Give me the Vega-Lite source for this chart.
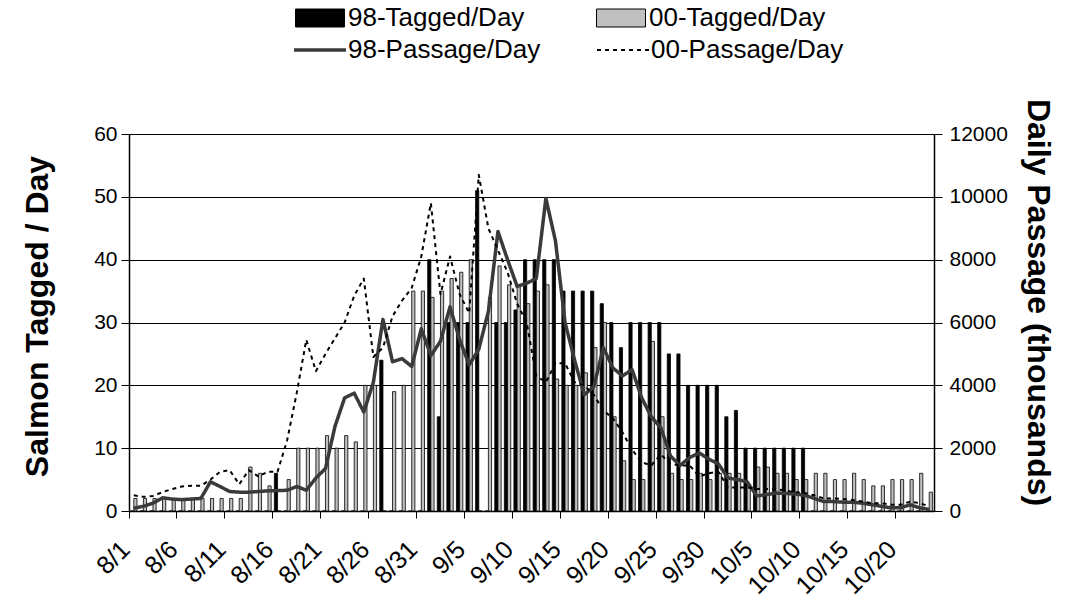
{
  "$schema": "https://vega.github.io/schema/vega-lite/v6.json",
  "width": 805,
  "height": 377,
  "autosize": {"type": "none"},
  "padding": {"left": 129, "top": 134, "right": 150, "bottom": 90},
  "background": "white",
  "config": {
    "font": "Liberation Sans",
    "view": {"stroke": null},
    "axis": {"labelFont": "Liberation Sans", "titleFont": "Liberation Sans", "labelColor": "black", "titleColor": "black", "domainColor": "black", "tickColor": "black"},
    "legend": {"labelFont": "Liberation Sans", "labelColor": "black"}
  },
  "data": {
    "values": [
      {"d":"8/1","98-Tagged/Day":0,"00-Tagged/Day":2,"98-Passage/Day":90,"00-Passage/Day":500},
      {"d":"8/2","98-Tagged/Day":0,"00-Tagged/Day":2,"98-Passage/Day":150,"00-Passage/Day":450},
      {"d":"8/3","98-Tagged/Day":0,"00-Tagged/Day":2,"98-Passage/Day":250,"00-Passage/Day":480},
      {"d":"8/4","98-Tagged/Day":0,"00-Tagged/Day":2,"98-Passage/Day":420,"00-Passage/Day":600},
      {"d":"8/5","98-Tagged/Day":0,"00-Tagged/Day":2,"98-Passage/Day":380,"00-Passage/Day":700},
      {"d":"8/6","98-Tagged/Day":0,"00-Tagged/Day":2,"98-Passage/Day":360,"00-Passage/Day":780},
      {"d":"8/7","98-Tagged/Day":0,"00-Tagged/Day":2,"98-Passage/Day":380,"00-Passage/Day":800},
      {"d":"8/8","98-Tagged/Day":0,"00-Tagged/Day":2,"98-Passage/Day":400,"00-Passage/Day":800},
      {"d":"8/9","98-Tagged/Day":0,"00-Tagged/Day":2,"98-Passage/Day":930,"00-Passage/Day":1000},
      {"d":"8/10","98-Tagged/Day":0,"00-Tagged/Day":2,"98-Passage/Day":780,"00-Passage/Day":1250},
      {"d":"8/11","98-Tagged/Day":0,"00-Tagged/Day":2,"98-Passage/Day":620,"00-Passage/Day":1300},
      {"d":"8/12","98-Tagged/Day":0,"00-Tagged/Day":2,"98-Passage/Day":600,"00-Passage/Day":850},
      {"d":"8/13","98-Tagged/Day":0,"00-Tagged/Day":7,"98-Passage/Day":600,"00-Passage/Day":1300},
      {"d":"8/14","98-Tagged/Day":0,"00-Tagged/Day":6,"98-Passage/Day":620,"00-Passage/Day":1100},
      {"d":"8/15","98-Tagged/Day":0,"00-Tagged/Day":4,"98-Passage/Day":640,"00-Passage/Day":1250},
      {"d":"8/16","98-Tagged/Day":6,"00-Tagged/Day":0,"98-Passage/Day":650,"00-Passage/Day":1250},
      {"d":"8/17","98-Tagged/Day":0,"00-Tagged/Day":5,"98-Passage/Day":660,"00-Passage/Day":2250},
      {"d":"8/18","98-Tagged/Day":0,"00-Tagged/Day":10,"98-Passage/Day":780,"00-Passage/Day":3750},
      {"d":"8/19","98-Tagged/Day":0,"00-Tagged/Day":10,"98-Passage/Day":660,"00-Passage/Day":5450},
      {"d":"8/20","98-Tagged/Day":0,"00-Tagged/Day":10,"98-Passage/Day":1050,"00-Passage/Day":4450},
      {"d":"8/21","98-Tagged/Day":0,"00-Tagged/Day":12,"98-Passage/Day":1350,"00-Passage/Day":5000},
      {"d":"8/22","98-Tagged/Day":0,"00-Tagged/Day":10,"98-Passage/Day":2700,"00-Passage/Day":5500},
      {"d":"8/23","98-Tagged/Day":0,"00-Tagged/Day":12,"98-Passage/Day":3600,"00-Passage/Day":6000},
      {"d":"8/24","98-Tagged/Day":0,"00-Tagged/Day":11,"98-Passage/Day":3750,"00-Passage/Day":6850},
      {"d":"8/25","98-Tagged/Day":0,"00-Tagged/Day":20,"98-Passage/Day":3150,"00-Passage/Day":7400},
      {"d":"8/26","98-Tagged/Day":0,"00-Tagged/Day":20,"98-Passage/Day":4100,"00-Passage/Day":4900},
      {"d":"8/27","98-Tagged/Day":24,"00-Tagged/Day":0,"98-Passage/Day":6100,"00-Passage/Day":5200},
      {"d":"8/28","98-Tagged/Day":0,"00-Tagged/Day":19,"98-Passage/Day":4750,"00-Passage/Day":6200},
      {"d":"8/29","98-Tagged/Day":0,"00-Tagged/Day":20,"98-Passage/Day":4850,"00-Passage/Day":6700},
      {"d":"8/30","98-Tagged/Day":0,"00-Tagged/Day":35,"98-Passage/Day":4600,"00-Passage/Day":7100},
      {"d":"8/31","98-Tagged/Day":0,"00-Tagged/Day":35,"98-Passage/Day":5800,"00-Passage/Day":8100},
      {"d":"9/1","98-Tagged/Day":40,"00-Tagged/Day":34,"98-Passage/Day":4950,"00-Passage/Day":9800},
      {"d":"9/2","98-Tagged/Day":15,"00-Tagged/Day":35,"98-Passage/Day":5400,"00-Passage/Day":6900},
      {"d":"9/3","98-Tagged/Day":30,"00-Tagged/Day":37,"98-Passage/Day":6500,"00-Passage/Day":8100},
      {"d":"9/4","98-Tagged/Day":30,"00-Tagged/Day":38,"98-Passage/Day":5450,"00-Passage/Day":6900},
      {"d":"9/5","98-Tagged/Day":30,"00-Tagged/Day":40,"98-Passage/Day":4650,"00-Passage/Day":6300},
      {"d":"9/6","98-Tagged/Day":51,"00-Tagged/Day":0,"98-Passage/Day":5150,"00-Passage/Day":10700},
      {"d":"9/7","98-Tagged/Day":0,"00-Tagged/Day":34,"98-Passage/Day":6350,"00-Passage/Day":9000},
      {"d":"9/8","98-Tagged/Day":30,"00-Tagged/Day":39,"98-Passage/Day":8900,"00-Passage/Day":8300},
      {"d":"9/9","98-Tagged/Day":30,"00-Tagged/Day":36,"98-Passage/Day":8000,"00-Passage/Day":7600},
      {"d":"9/10","98-Tagged/Day":32,"00-Tagged/Day":36,"98-Passage/Day":7150,"00-Passage/Day":6600},
      {"d":"9/11","98-Tagged/Day":40,"00-Tagged/Day":33,"98-Passage/Day":7250,"00-Passage/Day":6000},
      {"d":"9/12","98-Tagged/Day":40,"00-Tagged/Day":35,"98-Passage/Day":7400,"00-Passage/Day":4300},
      {"d":"9/13","98-Tagged/Day":40,"00-Tagged/Day":36,"98-Passage/Day":9950,"00-Passage/Day":4100},
      {"d":"9/14","98-Tagged/Day":40,"00-Tagged/Day":21,"98-Passage/Day":8600,"00-Passage/Day":4700},
      {"d":"9/15","98-Tagged/Day":35,"00-Tagged/Day":20,"98-Passage/Day":6000,"00-Passage/Day":4700},
      {"d":"9/16","98-Tagged/Day":35,"00-Tagged/Day":20,"98-Passage/Day":4800,"00-Passage/Day":4100},
      {"d":"9/17","98-Tagged/Day":35,"00-Tagged/Day":22,"98-Passage/Day":3700,"00-Passage/Day":4000},
      {"d":"9/18","98-Tagged/Day":35,"00-Tagged/Day":26,"98-Passage/Day":3950,"00-Passage/Day":3700},
      {"d":"9/19","98-Tagged/Day":33,"00-Tagged/Day":30,"98-Passage/Day":5200,"00-Passage/Day":3200},
      {"d":"9/20","98-Tagged/Day":30,"00-Tagged/Day":15,"98-Passage/Day":4550,"00-Passage/Day":2950},
      {"d":"9/21","98-Tagged/Day":26,"00-Tagged/Day":8,"98-Passage/Day":4300,"00-Passage/Day":2500},
      {"d":"9/22","98-Tagged/Day":30,"00-Tagged/Day":5,"98-Passage/Day":4500,"00-Passage/Day":1950},
      {"d":"9/23","98-Tagged/Day":30,"00-Tagged/Day":5,"98-Passage/Day":3600,"00-Passage/Day":1550},
      {"d":"9/24","98-Tagged/Day":30,"00-Tagged/Day":27,"98-Passage/Day":3000,"00-Passage/Day":1450},
      {"d":"9/25","98-Tagged/Day":30,"00-Tagged/Day":15,"98-Passage/Day":2650,"00-Passage/Day":1800},
      {"d":"9/26","98-Tagged/Day":25,"00-Tagged/Day":6,"98-Passage/Day":1750,"00-Passage/Day":1500},
      {"d":"9/27","98-Tagged/Day":25,"00-Tagged/Day":5,"98-Passage/Day":1450,"00-Passage/Day":1450},
      {"d":"9/28","98-Tagged/Day":20,"00-Tagged/Day":5,"98-Passage/Day":1700,"00-Passage/Day":1450},
      {"d":"9/29","98-Tagged/Day":20,"00-Tagged/Day":6,"98-Passage/Day":1850,"00-Passage/Day":1100},
      {"d":"9/30","98-Tagged/Day":20,"00-Tagged/Day":5,"98-Passage/Day":1650,"00-Passage/Day":1200},
      {"d":"10/1","98-Tagged/Day":20,"00-Tagged/Day":6,"98-Passage/Day":1500,"00-Passage/Day":1250},
      {"d":"10/2","98-Tagged/Day":15,"00-Tagged/Day":6,"98-Passage/Day":1050,"00-Passage/Day":750},
      {"d":"10/3","98-Tagged/Day":16,"00-Tagged/Day":6,"98-Passage/Day":1000,"00-Passage/Day":750},
      {"d":"10/4","98-Tagged/Day":10,"00-Tagged/Day":4,"98-Passage/Day":930,"00-Passage/Day":750},
      {"d":"10/5","98-Tagged/Day":10,"00-Tagged/Day":7,"98-Passage/Day":480,"00-Passage/Day":700},
      {"d":"10/6","98-Tagged/Day":10,"00-Tagged/Day":7,"98-Passage/Day":520,"00-Passage/Day":700},
      {"d":"10/7","98-Tagged/Day":10,"00-Tagged/Day":6,"98-Passage/Day":570,"00-Passage/Day":700},
      {"d":"10/8","98-Tagged/Day":10,"00-Tagged/Day":6,"98-Passage/Day":560,"00-Passage/Day":650},
      {"d":"10/9","98-Tagged/Day":10,"00-Tagged/Day":5,"98-Passage/Day":540,"00-Passage/Day":600},
      {"d":"10/10","98-Tagged/Day":10,"00-Tagged/Day":5,"98-Passage/Day":500,"00-Passage/Day":570},
      {"d":"10/11","98-Tagged/Day":0,"00-Tagged/Day":6,"98-Passage/Day":400,"00-Passage/Day":500},
      {"d":"10/12","98-Tagged/Day":0,"00-Tagged/Day":6,"98-Passage/Day":300,"00-Passage/Day":400},
      {"d":"10/13","98-Tagged/Day":0,"00-Tagged/Day":5,"98-Passage/Day":300,"00-Passage/Day":400},
      {"d":"10/14","98-Tagged/Day":0,"00-Tagged/Day":5,"98-Passage/Day":280,"00-Passage/Day":380},
      {"d":"10/15","98-Tagged/Day":0,"00-Tagged/Day":6,"98-Passage/Day":280,"00-Passage/Day":350},
      {"d":"10/16","98-Tagged/Day":0,"00-Tagged/Day":5,"98-Passage/Day":250,"00-Passage/Day":300},
      {"d":"10/17","98-Tagged/Day":0,"00-Tagged/Day":4,"98-Passage/Day":200,"00-Passage/Day":250},
      {"d":"10/18","98-Tagged/Day":0,"00-Tagged/Day":4,"98-Passage/Day":150,"00-Passage/Day":250},
      {"d":"10/19","98-Tagged/Day":0,"00-Tagged/Day":5,"98-Passage/Day":100,"00-Passage/Day":200},
      {"d":"10/20","98-Tagged/Day":0,"00-Tagged/Day":5,"98-Passage/Day":100,"00-Passage/Day":200},
      {"d":"10/21","98-Tagged/Day":0,"00-Tagged/Day":5,"98-Passage/Day":200,"00-Passage/Day":300},
      {"d":"10/22","98-Tagged/Day":0,"00-Tagged/Day":6,"98-Passage/Day":100,"00-Passage/Day":250},
      {"d":"10/23","98-Tagged/Day":0,"00-Tagged/Day":3,"98-Passage/Day":50,"00-Passage/Day":150}
    ]
  },
  "encoding": {
    "x": {
      "field": "d", "type": "nominal", "sort": null,
      "scale": {"paddingInner": 0, "paddingOuter": 0},
      "axis": {
        "title": null, "bandPosition": 0,
        "values": ["8/1","8/6","8/11","8/16","8/21","8/26","8/31","9/5","9/10","9/15","9/20","9/25","9/30","10/5","10/10","10/15","10/20"],
        "labelAngle": -45, "labelAlign": "right", "labelBaseline": "middle",
        "labelFontSize": 25, "labelPadding": 27, "labelOffset": -8, "tickSize": 7, "domainWidth": 1.5
      }
    }
  },
  "layer": [
    {
      "transform": [{"fold": ["98-Tagged/Day", "00-Tagged/Day"], "as": ["series", "value"]}],
      "mark": {"type": "bar", "stroke": "black", "strokeWidth": 0.8},
      "encoding": {
        "xOffset": {"field": "series", "type": "nominal", "sort": ["98-Tagged/Day", "00-Tagged/Day"], "scale": {"paddingInner": 0, "paddingOuter": 0.5}},
        "y": {
          "field": "value", "type": "quantitative",
          "scale": {"domain": [0, 60]},
          "axis": {
            "orient": "left", "title": "Salmon Tagged / Day", "values": [0,10,20,30,40,50,60],
            "grid": true, "gridColor": "black", "gridWidth": 1, "gridOpacity": 1,
            "labelFontSize": 21, "tickSize": 8, "labelPadding": 4, "domainWidth": 1.5,
            "titleFontSize": 32, "titleFontWeight": "bold", "titlePadding": 39, "titleY": 182
          }
        },
        "fill": {
          "field": "series", "type": "nominal",
          "scale": {"domain": ["98-Tagged/Day", "00-Tagged/Day"], "range": ["black", "#c0c0c0"]},
          "legend": {
            "orient": "none", "legendX": 178, "legendY": -129, "columns": 2, "direction": "horizontal",
            "title": null, "labelFontSize": 26, "labelLimit": 500,
            "symbolType": "M-2.45,-0.9H2.45V0.9H-2.45Z", "symbolSize": 400,
            "symbolStrokeColor": "black", "symbolStrokeWidth": 1, "symbolOpacity": 1,
            "labelOffset": 15, "columnPadding": 69
          }
        }
      }
    },
    {
      "transform": [{"fold": ["98-Passage/Day", "00-Passage/Day"], "as": ["series", "pv"]}],
      "mark": {"type": "line", "strokeJoin": "round"},
      "encoding": {
        "y": {
          "field": "pv", "type": "quantitative",
          "scale": {"domain": [0, 12000]},
          "axis": {
            "orient": "right", "title": "Daily Passage (thousands)", "values": [0,2000,4000,6000,8000,10000,12000], "format": "d",
            "grid": false, "labelFontSize": 21, "tickSize": 8, "labelPadding": 7, "domainWidth": 1.5,
            "titleFontSize": 32, "titleFontWeight": "bold", "titlePadding": 13, "titleY": 168
          }
        },
        "stroke": {
          "field": "series", "type": "nominal",
          "scale": {"domain": ["98-Passage/Day", "00-Passage/Day"], "range": ["#3a3a3a", "black"]},
          "legend": {
            "orient": "none", "legendX": 178, "legendY": -97, "columns": 2, "direction": "horizontal",
            "title": null, "labelFontSize": 26, "labelLimit": 500,
            "symbolType": "M-2.6,0H2.6", "symbolSize": 400,
            "labelOffset": 15, "columnPadding": 52
          }
        },
        "strokeDash": {
          "field": "series", "type": "nominal",
          "scale": {"domain": ["98-Passage/Day", "00-Passage/Day"], "range": [[1, 0], [4, 4]]},
          "legend": {
            "orient": "none", "legendX": 178, "legendY": -97, "columns": 2, "direction": "horizontal",
            "title": null, "labelFontSize": 26, "labelLimit": 500,
            "symbolType": "M-2.6,0H2.6", "symbolSize": 400,
            "labelOffset": 15, "columnPadding": 52
          }
        },
        "strokeWidth": {
          "field": "series", "type": "nominal",
          "scale": {"domain": ["98-Passage/Day", "00-Passage/Day"], "range": [3.5, 2]},
          "legend": {
            "orient": "none", "legendX": 178, "legendY": -97, "columns": 2, "direction": "horizontal",
            "title": null, "labelFontSize": 26, "labelLimit": 500,
            "symbolType": "M-2.6,0H2.6", "symbolSize": 400,
            "labelOffset": 15, "columnPadding": 52
          }
        }
      }
    }
  ],
  "resolve": {"scale": {"y": "independent"}}
}
